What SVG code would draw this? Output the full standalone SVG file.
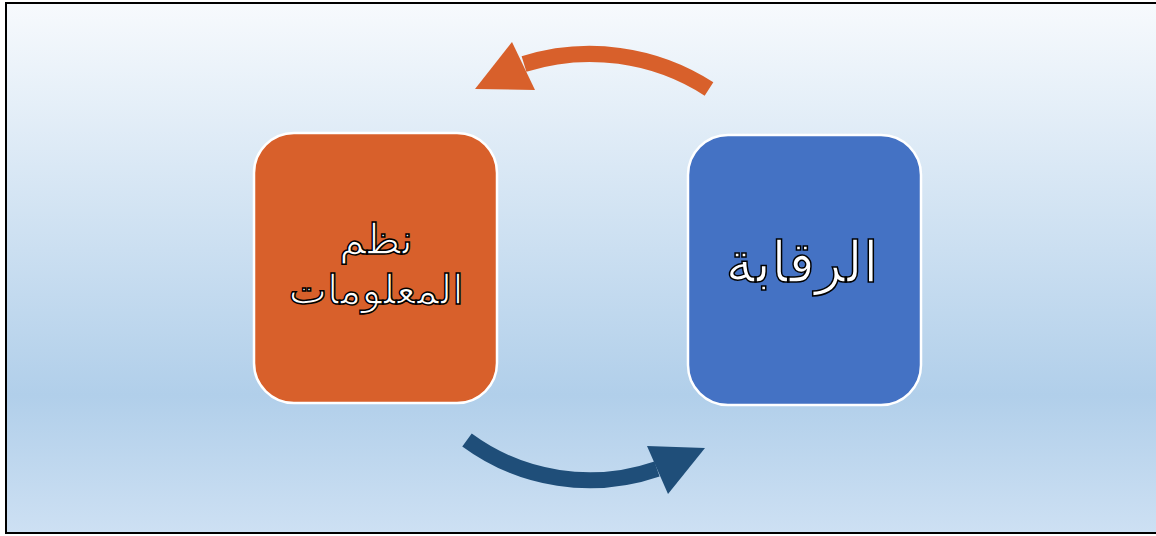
<svg xmlns="http://www.w3.org/2000/svg" width="1156" height="536" viewBox="0 0 1156 536">
<defs>
<linearGradient id="bg" x1="0" y1="0" x2="0" y2="1">
<stop offset="0" stop-color="#f7fafd"/>
<stop offset="0.74" stop-color="#b1cfea"/>
<stop offset="1" stop-color="#cde0f3"/>
</linearGradient>
<style>
.box{stroke:#fff;stroke-width:2.5}
.lbl{font-family:"DejaVu Sans",sans-serif;fill:#fff;stroke:#000;stroke-width:1.5;text-anchor:middle;direction:rtl}
</style>
</defs>
<rect x="6" y="3" width="1160" height="530" fill="url(#bg)" stroke="#000" stroke-width="2"/>
<g id="connectors">
<g id="arrow-top">
<path d="M709,89 A220,220 0 0 0 524,64" fill="none" stroke="#d8602b" stroke-width="16"/>
<polygon points="475,89 512,42 535,90" fill="#d8602b"/>
</g>
<g id="arrow-bottom">
<path d="M467,440 A207,207 0 0 0 657,469" fill="none" stroke="#1f4e79" stroke-width="16"/>
<polygon points="647,446 705,448 668,494" fill="#1f4e79"/>
</g>
</g>
<g id="node-info">
<rect class="box" x="254" y="133" width="243" height="270" rx="40" fill="#d8602b"/>
<text class="lbl" x="376" y="254" font-size="42">نظم</text>
<text class="lbl" x="376" y="304" font-size="41">المعلومات</text>
</g>
<g id="node-control">
<rect class="box" x="688" y="135" width="233" height="270" rx="40" fill="#4472c4"/>
<text class="lbl" x="802" y="282" font-size="56">الرقابة</text>
</g>
</svg>
